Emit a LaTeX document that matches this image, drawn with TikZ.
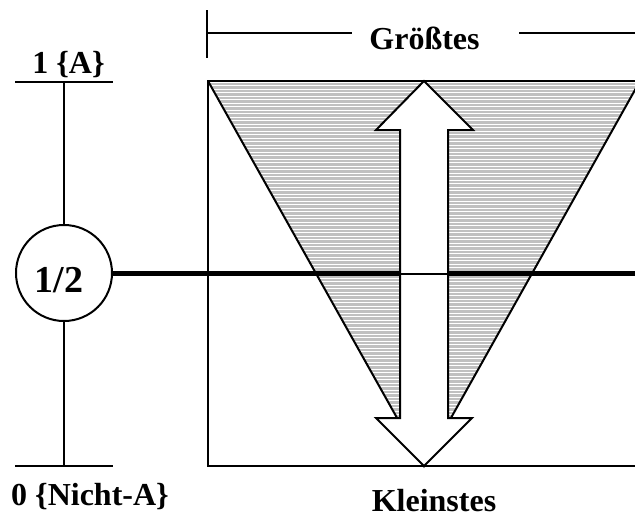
\documentclass[tikz,border=0pt]{standalone}
\usepackage{fontspec}
\setmainfont{Liberation Serif}
\definecolor{hatchgray}{RGB}{192,192,192}
\begin{document}
\begin{tikzpicture}[x=1pt,y=-1pt,line join=miter,
  lbl/.style={font=\bfseries\fontsize{32}{32}\selectfont, inner sep=0pt, anchor=base},
  ln/.style={line width=2pt},
  hatch/.style={line width=2.3pt, draw=hatchgray},
  thick line/.style={line width=5.5pt}]
\useasboundingbox (0,0) rectangle (635,517);
\clip (0,0) rectangle (635,517);
% coordinates
\coordinate (TL) at (208,81);
\coordinate (TR) at (640,81);
\coordinate (BA) at (424,466);
\coordinate (BL) at (208,466);
\coordinate (BR) at (640,466);
\coordinate (tickT) at (207,10);
\coordinate (tickB) at (207,58);
\coordinate (dimL) at (207,33);
\coordinate (dimLe) at (352,33);
\coordinate (dimRs) at (519,33);
\coordinate (dimR) at (640,33);
\coordinate (topL) at (15,81.5);
\coordinate (topR) at (113,81.5);
\coordinate (topV) at (64,81.5);
\coordinate (botL) at (15,466);
\coordinate (botR) at (113,466);
\coordinate (botV) at (64,466);
\coordinate (lineEnd) at (640,273.5);
\coordinate (shL) at (400,273.5);
\coordinate (shR) at (448,273.5);
% hatched triangle
\begin{scope}
  \clip (TL) -- (TR) -- (BA) -- cycle;
  \foreach \y in {84,87.5,...,468} \draw[hatch] (200,\y) -- (650,\y);
\end{scope}
\draw[ln] (TL) -- (BA) -- (TR);
% rectangle frame
\draw[ln] (TR) -- (TL) -- (BL) -- (BR);
% left scale
\node[circle, draw, line width=2pt, minimum size=96pt, inner sep=0pt] (half) at (64,273) {};
\node[font=\bfseries\fontsize{38}{38}\selectfont, inner sep=0pt, anchor=base] (halftxt) at (59,292) {1/2};
\draw[ln] (topL) -- (topR);
\draw[ln] (botL) -- (botR);
\draw[ln] (topV) -- (half.north);
\draw[ln] (half.south) -- (botV);
% thick line
\draw[thick line] (half.east |- lineEnd) -- (lineEnd);
% double arrow
\draw[ln, fill=white] (424,81) -- (473,130) -- (448,130) -- (448,418) -- (472,418)
   -- (424,466) -- (376,418) -- (400,418) -- (400,130) -- (376,130) -- cycle;
\draw[ln] (shL) -- (shR);
% dimension line
\draw[ln] (tickT) -- (tickB);
\draw[ln] (dimL) -- (dimLe);
\draw[ln] (dimRs) -- (dimR);
% labels
\node[lbl] (gross) at (424.5,49) {Größtes};
\node[lbl] (klein) at (434,511) {Kleinstes};
\node[lbl] (one) at (68.5,73) {1 \{A\}};
\node[lbl] (zero) at (90,505) {0 \{Nicht-A\}};
\end{tikzpicture}
\end{document}
